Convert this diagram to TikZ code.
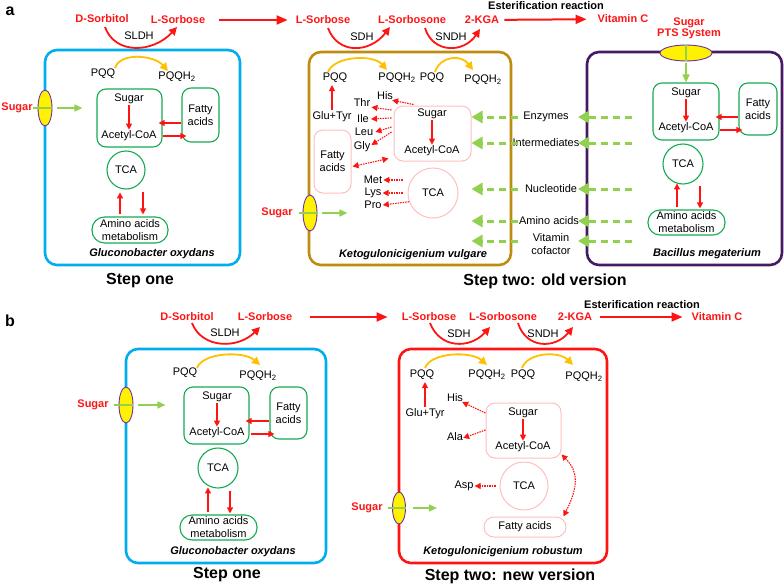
\documentclass[tikz,border=0pt]{standalone}
\usepackage{fontspec}
\setmainfont{Liberation Sans}
\usetikzlibrary{arrows.meta,shapes.geometric,calc}
\newcommand{\myfs}{\fontsize{11}{13}\selectfont}
\definecolor{cblue}{RGB}{0,174,239}
\definecolor{cbrown}{RGB}{190,140,15}
\definecolor{cpurple}{RGB}{70,25,100}
\definecolor{cred}{RGB}{255,20,20}
\definecolor{boxgreen}{RGB}{20,170,80}
\definecolor{pinkline}{RGB}{255,190,190}
\definecolor{arcorange}{RGB}{255,192,0}
\definecolor{lgreen}{RGB}{146,208,80}
\definecolor{membpurple}{RGB}{112,48,160}
\begin{document}
\begin{tikzpicture}[x=1pt,y=-1pt,
 lb/.style={inner sep=0pt, font=\myfs},
 rb/.style={inner sep=0pt, font=\myfs\bfseries, text=cred},
 eb/.style={inner sep=0pt, font=\myfs\bfseries},
 sp/.style={inner sep=0pt, font=\myfs\bfseries\itshape},
 stp/.style={inner sep=0pt, font=\fontsize{16}{19}\selectfont\bfseries},
 bigbox/.style={draw, rounded corners=12pt, line width=2.6pt, inner sep=0pt},
 gbox/.style={draw=boxgreen, rounded corners=9pt, line width=1.1pt, inner sep=0pt, align=center, font=\myfs},
 pbox/.style={draw=pinkline, rounded corners=9pt, line width=1pt, inner sep=0pt, align=center, font=\myfs},
 gcirc/.style={circle, draw=boxgreen, line width=1.1pt, inner sep=0pt, font=\myfs},
 pcirc/.style={circle, draw=pinkline, line width=1pt, inner sep=0pt, font=\myfs},
 memb/.style={ellipse, draw=membpurple, fill=yellow, line width=0.9pt, inner sep=0pt},
 rarr/.style={draw=cred, line width=1.2pt, -{Triangle[length=6pt,width=6pt]}},
 darr/.style={draw=cred, line width=1.1pt, dash pattern=on 1.5pt off 1pt, -{Triangle[length=6pt,width=6pt]}},
 dd/.style={darr, {Triangle[length=6pt,width=6pt]}-{Triangle[length=6pt,width=6pt]}},
 earc/.style={draw=cred, line width=1.8pt, -{Triangle[length=8pt,width=8pt]}},
 oarc/.style={draw=arcorange, line width=1.8pt, -{Triangle[length=8pt,width=8pt]}},
 bigarr/.style={draw=cred, line width=2pt, -{Triangle[length=11pt,width=9pt]}},
 garr/.style={draw=lgreen, line width=3pt, dash pattern=on 7pt off 5pt, -{Triangle[length=11pt,width=12pt]}},
 gin/.style={draw=lgreen, line width=1.6pt, -{Triangle[length=8pt,width=7pt]}},
 gline/.style={draw=lgreen, line width=1.2pt}]
\useasboundingbox (0,0) rectangle (784,586);

% ================= PANEL A =================
\node[stp] (pa) at (10,11) {a};
% top pathway
\node[rb] (dsa) at (102,19) {D-Sorbitol};
\node[rb] (lsa1) at (178,20) {L-Sorbose};
\node[rb] (lsa2) at (323,20) {L-Sorbose};
\node[rb] (lsna) at (412,20) {L-Sorbosone};
\node[rb] (kga) at (482,20) {2-KGA};
\node[rb] (vca) at (623,19) {Vitamin C};
\node[eb] (esa) at (546,6) {Esterification reaction};
\node[lb] (sldha) at (139,36) {SLDH};
\node[lb] (sdha) at (362,37) {SDH};
\node[lb] (sndha) at (451,37) {SNDH};
\draw[bigarr, shorten <=14pt, shorten >=8pt] (lsa1) -- (lsa2);
\draw[bigarr, shorten <=5pt, shorten >=11pt] (kga) -- (vca);

% Step one box
\node[bigbox, draw=cblue, minimum width=195pt, minimum height=215pt] (ca1) at (142.5,157.5) {};
% Step two (vulgare) box
\node[bigbox, draw=cbrown, minimum width=202pt, minimum height=213pt] (ca2) at (410,158.5) {};
% Bacillus box
\node[bigbox, draw=cpurple, minimum width=195pt, minimum height=213pt] (cp) at (684.5,158.5) {};

\draw[earc] ($(dsa)+(3,8)$) .. controls +(10,28) and +(-24,26) .. ($(lsa1)+(-1,7)$);
\draw[earc] ($(lsa2)+(5,8)$) .. controls +(10,27) and +(-20,26) .. ($(lsna)+(-22,7)$);
\draw[earc] ($(lsna)+(13,8)$) .. controls +(8,26) and +(-16,24) .. ($(kga)+(-2,9)$);

% ---- Gluconobacter oxydans (a)
\node[lb] (pqa1) at (103,74) {PQQ};
\node[lb] (pha1) at (177,77) {PQQH\textsubscript{2}};
\draw[oarc] ($(pqa1)+(12,-6)$) .. controls +(5,-16) and +(-14,-16) .. ($(pha1)+(-9,-6)$);
\node[gbox, minimum width=65pt, minimum height=58pt] (ga1) at (129.5,118) {};
\node[lb] (sga1) at (129,99) {Sugar};
\node[lb] (aca1) at (129,136) {Acetyl-CoA};
\draw[rarr, shorten <=1pt, shorten >=1pt] (sga1) -- (aca1);
\node[gbox, minimum width=37pt, minimum height=54pt] (fa1) at (200.5,115) {Fatty\\acids};
\draw[rarr] ($(fa1.west)+(0,8)$) -- ($(ga1.east)+(-4,5)$);
\draw[rarr] ($(ga1.east)+(0,18)$) -- ($(fa1.west)+(5,21)$);
\node[gcirc, minimum size=38pt] (ta1) at (126,170) {TCA};
\node[gbox, rounded corners=12.5pt, minimum width=76pt, minimum height=26pt] (ama1) at (130,230) {Amino acids\\metabolism};
\draw[rarr] ($(ama1.north)+(-10,-2)$) -- ($(ama1.north)+(-10,-24)$);
\draw[rarr] ($(ama1.north)+(13,-24)$) -- ($(ama1.north)+(13,-2)$);
\node[sp] (spa1) at (152,254) {Gluconobacter oxydans};
\node[stp] (sta1) at (140,281) {Step one};
\node[memb, minimum width=14pt, minimum height=36pt] (ma1) at (45,108) {};
\node[rb] (sua1) at (17,108) {Sugar};
\draw[gline] (sua1.east) -- ($(ma1.east)+(-1,0)$);
\draw[gin] ($(ma1.east)+(5,0)$) -- ($(ma1.east)+(30,0)$);

% ---- Ketogulonicigenium vulgare
\node[lb] (pqa2) at (335,78) {PQQ};
\node[lb] (pha2) at (397,78) {PQQH\textsubscript{2}};
\node[lb] (pqa3) at (432,78) {PQQ};
\node[lb] (pha3) at (483,80) {PQQH\textsubscript{2}};
\draw[oarc] ($(pqa2)+(-7,-6)$) .. controls +(6,-16) and +(-14,-16) .. ($(pha2)+(-10,-8)$);
\draw[oarc] ($(pqa3)+(3,-6)$) .. controls +(5,-16) and +(-12,-16) .. ($(pha3)+(-10,-10)$);
\node[lb] (gla) at (332,117) {Glu+Tyr};
\draw[rarr, shorten >=2pt] ($(gla.north)+(0,-2)$) -- (gla.north |- pqa2.south);
\node[pbox, minimum width=77pt, minimum height=55pt] (pba) at (432.5,133.5) {};
\node[lb] (sgb) at (432,114) {Sugar};
\node[lb] (acb) at (432,151) {Acetyl-CoA};
\draw[rarr, shorten <=1pt, shorten >=1pt] (sgb) -- (acb);
\node[pbox, minimum width=37pt, minimum height=63pt] (fab) at (332.5,161.5) {Fatty\\acids};
\node[pcirc, minimum size=50pt] (tcb) at (433,193) {TCA};
\node[lb] (his1) at (385,96) {His};
\node[lb] (thr) at (362,103) {Thr};
\node[lb] (ile) at (363,119) {Ile};
\node[lb] (leu) at (364,132) {Leu};
\node[lb] (gly) at (362,147) {Gly};
\node[lb] (met) at (373,180) {Met};
\node[lb] (lys) at (373,193) {Lys};
\node[lb] (pro) at (373,205) {Pro};
\draw[darr] ($(pba.north west)+(20,-1)$) -- ($(his1.south east)+(-1,0)$);
\draw[darr] ($(pba.west)+(-2,-23.5)$) -- ($(thr.south east)+(1,0)$);
\draw[darr] ($(pba.west)+(-2,-15.5)$) -- ($(ile.east)+(2,0)$);
\draw[darr] ($(pba.west)+(-2,-6.5)$) -- ($(leu.east)+(2,0)$);
\draw[darr] ($(pba.west)+(-2,-1.5)$) -- ($(gly.east)+(1,-2)$);
\draw[dd] ($(fab.east)+(1,5)$) -- ($(pba.south west)+(-5,-3)$);
\draw[darr] ($(tcb.west)+(-5,-13)$) -- ($(met.east)+(1,0)$);
\draw[darr] ($(tcb.west)+(-5,0)$) -- ($(lys.east)+(1,0)$);
\draw[darr] (tcb.200) -- ($(pro.east)+(1,0)$);
\node[memb, minimum width=14pt, minimum height=36pt] (mb) at (310,213) {};
\node[rb] (sub) at (277,213) {Sugar};
\draw[gline] ($(mb.west)+(-4,0)$) -- ($(mb.east)+(1,0)$);
\draw[gin] ($(mb.east)+(5,0)$) -- ($(mb.east)+(30,0)$);
\node[sp] (spb) at (413,255) {Ketogulonicigenium vulgare};

% ---- exchange arrows
\node[lb] (enz) at (546,117) {Enzymes};
\node[lb] (inm) at (546,143) {Intermediates};
\node[lb] (nuc) at (551,189) {Nucleotide};
\node[lb] (ami) at (549,221) {Amino acids};
\node[lb, align=center] (vit) at (551,244) {Vitamin\\cofactor};
\coordinate (vity) at (551,241);
\coordinate (xl) at (518,0);
\coordinate (xr) at (632,0);
\coordinate (xt) at (578,0);
\foreach \n in {enz,inm,nuc,ami,vity}{
  \draw[garr] (\n -| xl) -- (\n -| pba.east);
  \draw[garr] (\n -| xr) -- (\n -| xt);
}

% ---- Bacillus megaterium
\node[rb, align=center, font=\fontsize{11}{11.5}\selectfont\bfseries] (pts) at (689,28.5) {Sugar\\PTS System};
\node[gbox, minimum width=66pt, minimum height=57pt] (gc) at (686,111.5) {};
\node[memb, minimum width=52pt, minimum height=16pt] (mc) at (686,53) {};
\draw[gline] (mc.north) -- (mc.south);
\draw[gin] ($(mc.south)+(0,2)$) -- (gc.north);
\node[lb] (sgc) at (686,93) {Sugar};
\node[lb] (acc) at (686,128) {Acetyl-CoA};
\draw[rarr, shorten <=1pt, shorten >=1pt] (sgc) -- (acc);
\node[gbox, minimum width=38pt, minimum height=52pt] (fac) at (758,109) {Fatty\\acids};
\draw[rarr] ($(fac.west)+(0,8)$) -- ($(gc.east)+(-4,5.5)$);
\draw[rarr] ($(gc.east)+(0,18.5)$) -- ($(fac.west)+(4,21)$);
\node[gcirc, minimum size=40pt] (tcc) at (683,164) {TCA};
\node[gbox, rounded corners=12pt, minimum width=77pt, minimum height=25pt] (amc) at (686.5,222.5) {Amino acids\\metabolism};
\draw[rarr] ($(amc.north)+(-9.5,-2)$) -- ($(amc.north)+(-9.5,-26)$);
\draw[rarr] ($(amc.north)+(13.5,-23)$) -- ($(amc.north)+(13.5,-1)$);
\node[sp] (spc) at (707,254) {Bacillus megaterium};
\node[stp] (sta2) at (545,281) {Step two: old version};

% ================= PANEL B =================
\node[stp] (pbl) at (10,321) {b};
\node[rb] (dsb) at (187,317) {D-Sorbitol};
\node[rb] (lsb1) at (265,317) {L-Sorbose};
\node[rb] (lsb2) at (429,317) {L-Sorbose};
\node[rb] (lsnb) at (503,317) {L-Sorbosone};
\node[rb] (kgb) at (575,317) {2-KGA};
\node[rb] (vcb) at (717,317) {Vitamin C};
\node[eb] (esb) at (642,305) {Esterification reaction};
\node[lb] (sldhb) at (225,333) {SLDH};
\node[lb] (sdhb) at (459,334) {SDH};
\node[lb] (sndhb) at (543,334) {SNDH};
\draw[bigarr, shorten <=18pt, shorten >=14pt] (lsb1) -- (lsb2);
\draw[bigarr, shorten <=8pt, shorten >=9pt] (kgb) -- (vcb);

\node[bigbox, draw=cblue, minimum width=200pt, minimum height=214pt] (cb1) at (226,456) {};
\node[bigbox, draw=cred, minimum width=208pt, minimum height=214pt] (cr) at (503,456) {};

\draw[earc] ($(dsb)+(5,6)$) .. controls +(10,26) and +(-22,22) .. ($(lsb1)+(-5,10)$);
\draw[earc] ($(lsb2)+(1,6)$) .. controls +(10,26) and +(-20,22) .. ($(lsnb)+(-13,10)$);
\draw[earc] ($(lsnb)+(15,6)$) .. controls +(8,26) and +(-18,22) .. ($(kgb)+(-2,10)$);

% ---- Gluconobacter oxydans (b)
\node[lb] (pqb1) at (185,373) {PQQ};
\node[lb] (phb1) at (258,376) {PQQH\textsubscript{2}};
\draw[oarc] ($(pqb1)+(12,-5)$) .. controls +(6,-16) and +(-16,-14) .. ($(phb1)+(2,-11)$);
\node[gbox, minimum width=65pt, minimum height=57pt] (gb1) at (216.5,415.5) {};
\node[lb] (sgb1) at (217,397) {Sugar};
\node[lb] (acb1) at (217,433) {Acetyl-CoA};
\draw[rarr, shorten <=1pt, shorten >=1pt] (sgb1) -- (acb1);
\node[gbox, minimum width=37pt, minimum height=52pt] (fb1) at (288.5,413) {Fatty\\acids};
\draw[rarr] ($(fb1.west)+(0,8)$) -- ($(gb1.east)+(-4,5.5)$);
\draw[rarr] ($(gb1.east)+(1,18.5)$) -- ($(fb1.west)+(5,21)$);
\node[gcirc, minimum size=40pt] (tb1) at (218,468) {TCA};
\node[gbox, rounded corners=12pt, minimum width=77pt, minimum height=25pt] (amb1) at (218.5,527.5) {Amino acids\\metabolism};
\draw[rarr] ($(amb1.north)+(-10.5,-2)$) -- ($(amb1.north)+(-10.5,-27)$);
\draw[rarr] ($(amb1.north)+(11.5,-23)$) -- ($(amb1.north)+(11.5,-1)$);
\node[sp] (spd) at (233,552) {Gluconobacter oxydans};
\node[stp] (stb1) at (227,575) {Step one};
\node[memb, minimum width=14pt, minimum height=36pt] (mb1) at (126,405) {};
\node[rb] (sub1) at (93,405) {Sugar};
\draw[gline] ($(mb1.west)+(-5,0)$) -- ($(mb1.east)+(0,0)$);
\draw[gin] ($(mb1.east)+(5,0)$) -- ($(mb1.east)+(32,0)$);

% ---- Ketogulonicigenium robustum
\node[lb] (pqr1) at (422,375) {PQQ};
\node[lb] (phr1) at (487,375) {PQQH\textsubscript{2}};
\node[lb] (pqr2) at (523,375) {PQQ};
\node[lb] (phr2) at (584,377) {PQQH\textsubscript{2}};
\draw[oarc] ($(pqr1)+(3,-7)$) .. controls +(6,-16) and +(-16,-14) .. ($(phr1)+(0,-10)$);
\draw[oarc] ($(pqr2)+(-1,-7)$) .. controls +(6,-16) and +(-14,-14) .. ($(phr2)+(-11,-12)$);
\node[lb] (glr) at (425,414) {Glu+Tyr};
\draw[rarr, shorten >=2pt] ($(glr.north)+(0,-2)$) -- (glr.north |- pqr1.south);
\node[lb] (hisr) at (455,398) {His};
\node[lb] (alar) at (455,437) {Ala};
\node[pbox, minimum width=75pt, minimum height=55pt] (pbr) at (523.5,430.5) {};
\node[lb] (sgr) at (523,413) {Sugar};
\node[lb] (acr) at (523,447) {Acetyl-CoA};
\draw[rarr, shorten <=1pt, shorten >=1pt] (sgr) -- (acr);
\draw[darr] ($(pbr.west)+(0,-17.5)$) -- ($(hisr.east)+(-1,4)$);
\draw[darr] ($(pbr.west)+(0,-0.5)$) -- ($(alar.east)+(0,1)$);
\node[pcirc, minimum size=48pt] (tcr) at (524,486) {TCA};
\node[lb] (aspr) at (464,486) {Asp};
\draw[darr] ($(tcr.west)+(-4,0)$) -- ($(aspr.east)+(1,0)$);
\node[pbox, rounded corners=10pt, minimum width=82pt, minimum height=20pt] (fr) at (525,527) {Fatty acids};
\draw[dd] ($(pbr.south east)+(0,-4)$) .. controls +(17,17) and +(15,-30) .. ($(fr.north east)+(-3,0)$);
\node[memb, minimum width=13pt, minimum height=32pt] (mr) at (399,508) {};
\node[rb] (sur) at (367,508) {Sugar};
\draw[gline] ($(mr.west)+(-4,0)$) -- ($(mr.east)+(0,0)$);
\draw[gin] ($(mr.east)+(7,0)$) -- ($(mr.east)+(31,0)$);
\node[sp] (spr) at (503,552) {Ketogulonicigenium robustum};
\node[stp] (stb2) at (510,576) {Step two: new version};
\end{tikzpicture}
\end{document}
